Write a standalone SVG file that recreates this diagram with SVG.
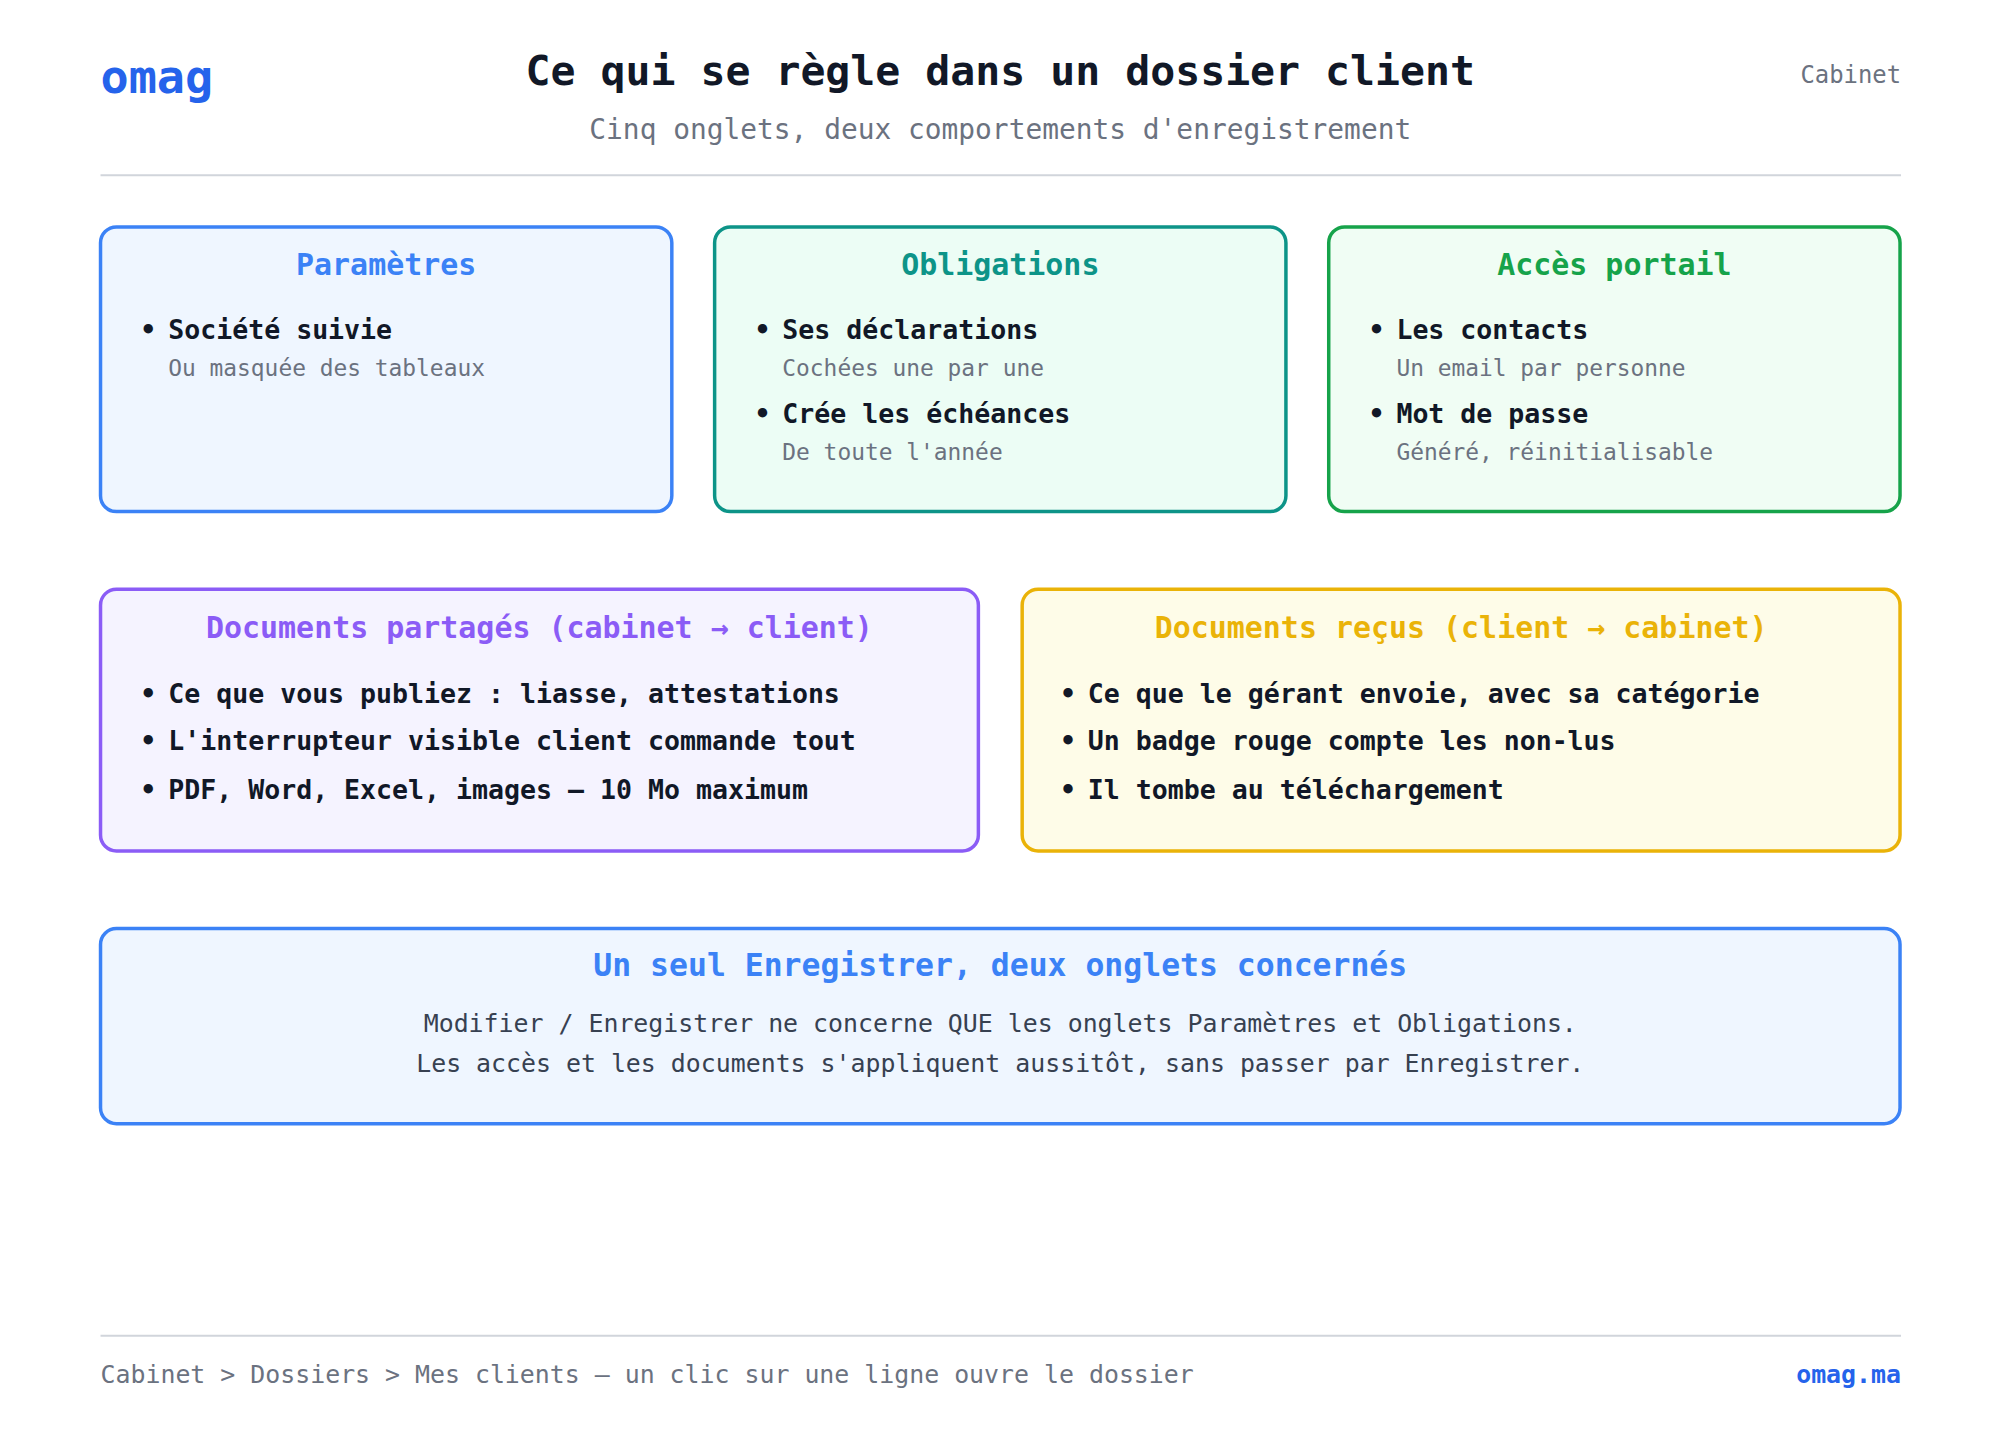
<svg xmlns="http://www.w3.org/2000/svg" width="2000" height="1440" viewBox="0 0 2000 1440">
<style>
text{font-family:"DejaVu Sans Mono","Liberation Mono",monospace}
.box{stroke-width:3.5}
.ttl{font-size:30.1px;font-weight:bold;text-anchor:middle}
.it{font-size:26.7px;font-weight:bold;fill:#111827}
.sub{font-size:23px;fill:#6b7280}
.b{fill:#eff6ff;stroke:#3b82f6}.bt{fill:#3b82f6}
.t{fill:#ecfdf5;stroke:#0d9488}.tt{fill:#0d9488}
.g{fill:#f0fdf4;stroke:#16a34a}.gt{fill:#16a34a}
.p{fill:#f5f3ff;stroke:#8b5cf6}.pt{fill:#8b5cf6}
.y{fill:#fefce8;stroke:#eab308}.yt{fill:#eab308}
</style>
<rect width="2000" height="1440" fill="#fff"/>
<g transform="scale(0.9953)">
<g id="header">
<text x="101" y="93" font-size="47" font-weight="bold" fill="#2563eb">omag</text>
<text x="1005" y="85" font-size="41.7" font-weight="bold" fill="#111827" text-anchor="middle">Ce qui se règle dans un dossier client</text>
<text x="1005" y="140" font-size="28" fill="#6b7280" text-anchor="middle">Cinq onglets, deux comportements d'enregistrement</text>
<text x="1910" y="83" font-size="24" fill="#6b7280" text-anchor="end">Cabinet</text>
<line x1="101" y1="176" x2="1910" y2="176" stroke="#d1d5db" stroke-width="2"/>
</g>
<g id="parametres">
<rect class="box b" x="101" y="228" width="574" height="286" rx="16"/>
<text class="ttl bt" x="388" y="276">Paramètres</text>
<text class="it" x="141" y="341">•</text><text class="it" x="169" y="341">Société suivie</text>
<text class="sub" x="169" y="378">Ou masquée des tableaux</text>
</g>
<g id="obligations">
<rect class="box t" x="718" y="228" width="574" height="286" rx="16"/>
<text class="ttl tt" x="1005" y="276">Obligations</text>
<text class="it" x="758" y="341">•</text><text class="it" x="786" y="341">Ses déclarations</text>
<text class="sub" x="786" y="378">Cochées une par une</text>
<text class="it" x="758" y="425">•</text><text class="it" x="786" y="425">Crée les échéances</text>
<text class="sub" x="786" y="462">De toute l'année</text>
</g>
<g id="acces">
<rect class="box g" x="1335" y="228" width="574" height="286" rx="16"/>
<text class="ttl gt" x="1622" y="276">Accès portail</text>
<text class="it" x="1375" y="341">•</text><text class="it" x="1403" y="341">Les contacts</text>
<text class="sub" x="1403" y="378">Un email par personne</text>
<text class="it" x="1375" y="425">•</text><text class="it" x="1403" y="425">Mot de passe</text>
<text class="sub" x="1403" y="462">Généré, réinitialisable</text>
</g>
<g id="docs-partages">
<rect class="box p" x="101" y="592" width="882" height="263" rx="16"/>
<text class="ttl pt" x="542" y="641">Documents partagés (cabinet → client)</text>
<text class="it" x="141" y="706">•</text><text class="it" x="169" y="706">Ce que vous publiez : liasse, attestations</text>
<text class="it" x="141" y="754">•</text><text class="it" x="169" y="754">L'interrupteur visible client commande tout</text>
<text class="it" x="141" y="803">•</text><text class="it" x="169" y="803">PDF, Word, Excel, images — 10 Mo maximum</text>
</g>
<g id="docs-recus">
<rect class="box y" x="1027" y="592" width="882" height="263" rx="16"/>
<text class="ttl yt" x="1468" y="641">Documents reçus (client → cabinet)</text>
<text class="it" x="1065" y="706">•</text><text class="it" x="1093" y="706">Ce que le gérant envoie, avec sa catégorie</text>
<text class="it" x="1065" y="754">•</text><text class="it" x="1093" y="754">Un badge rouge compte les non-lus</text>
<text class="it" x="1065" y="803">•</text><text class="it" x="1093" y="803">Il tombe au téléchargement</text>
</g>
<g id="enregistrer">
<rect class="box b" x="101" y="933" width="1808" height="196" rx="16"/>
<text class="bt" x="1005" y="981" font-size="31.6" font-weight="bold" text-anchor="middle">Un seul Enregistrer, deux onglets concernés</text>
<text x="1005" y="1037" font-size="25" fill="#374151" text-anchor="middle">Modifier / Enregistrer ne concerne QUE les onglets Paramètres et Obligations.</text>
<text x="1005" y="1077" font-size="25" fill="#374151" text-anchor="middle">Les accès et les documents s'appliquent aussitôt, sans passer par Enregistrer.</text>
</g>
<g id="connectors"></g>
<g id="footer">
<line x1="101" y1="1342" x2="1910" y2="1342" stroke="#d1d5db" stroke-width="2"/>
<text x="101" y="1390" font-size="25" fill="#6b7280">Cabinet &gt; Dossiers &gt; Mes clients — un clic sur une ligne ouvre le dossier</text>
<text x="1910" y="1390" font-size="25" font-weight="bold" fill="#2563eb" text-anchor="end">omag.ma</text>
</g>
</g>
</svg>
